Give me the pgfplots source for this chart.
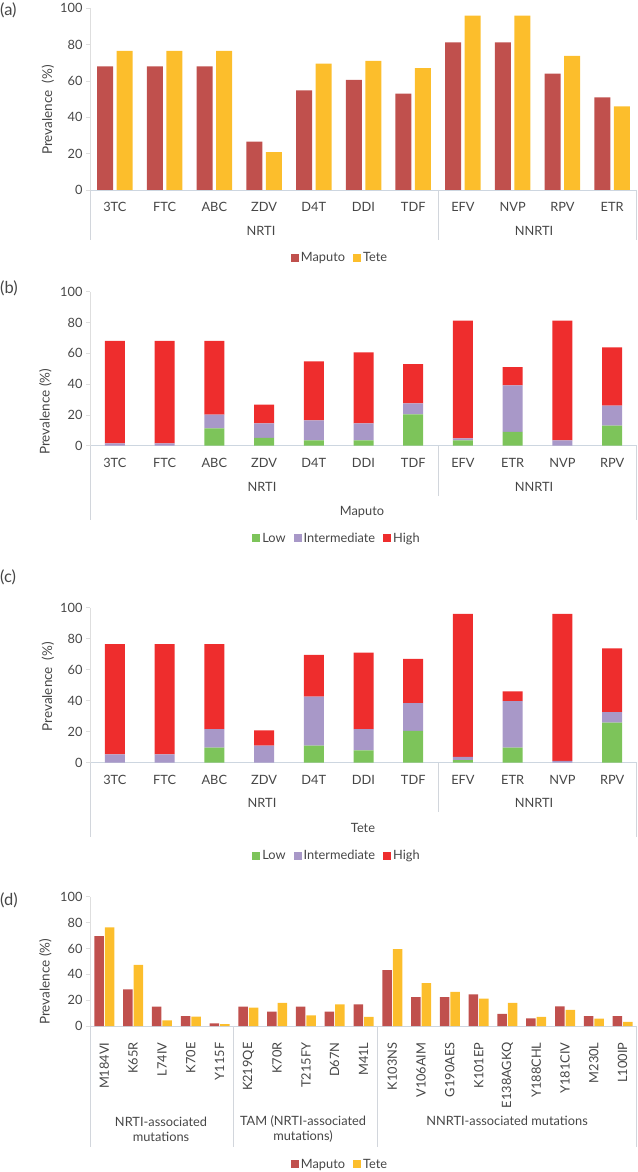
\documentclass[border=0pt]{standalone}
\usepackage{fontspec}
\setmainfont{Lato}
\usepackage{pgfplots}
\usepackage{pgfplotstable}
\pgfplotsset{compat=1.18}
\definecolor{maputo}{RGB}{192,80,77}
\definecolor{tete}{RGB}{252,190,44}
\definecolor{low}{RGB}{125,196,90}
\definecolor{inter}{RGB}{168,152,200}
\definecolor{high}{RGB}{238,45,45}
\definecolor{txt}{RGB}{70,70,70}
\definecolor{yline}{RGB}{222,222,222}
\definecolor{xline}{RGB}{205,214,224}
\definecolor{gline}{RGB}{210,214,220}
\newcommand\tl{\fontsize{12.8}{15}\selectfont}
\newcommand\yl{\fontsize{13.5}{16}\selectfont}
\newcommand\pl{\fontsize{16.5}{19}\selectfont}

\pgfplotstableread{
x Maputo Tete
0 68.0 76.5
1 68.0 76.5
2 68.0 76.5
3 26.6 20.9
4 54.8 69.6
5 60.6 71.0
6 53.0 67.0
7 81.2 96.0
8 81.2 96.0
9 64.0 73.8
10 51.0 46.0
}\tabA

\pgfplotstableread{
x L I H
0 0.0 1.5 66.5
1 0.0 1.5 66.5
2 11.3 8.8 47.9
3 5.0 9.5 12.1
4 3.5 13.0 38.3
5 3.5 11.0 46.1
6 20.3 7.2 25.5
7 3.5 1.3 76.4
8 8.9 30.3 11.8
9 0.0 3.5 77.7
10 13.0 13.0 37.9
}\tabB

\pgfplotstableread{
x L I H
0 0.0 5.4 71.1
1 0.0 5.4 71.1
2 9.7 12.0 54.8
3 0.0 11.0 9.9
4 11.0 31.6 27.0
5 8.0 13.7 49.3
6 20.6 17.9 28.5
7 1.7 2.0 92.3
8 9.7 30.1 6.2
9 0.0 1.1 94.9
10 25.8 6.9 41.1
}\tabC

\pgfplotstableread{
x Maputo Tete
0 69.6 76.3
1 28.4 47.2
2 14.9 4.4
3 7.7 7.2
4 2.1 1.5
5 14.9 14.2
6 11.1 17.8
7 14.9 8.2
8 11.1 16.8
9 16.8 7.0
10 43.3 59.5
11 22.4 33.2
12 22.4 26.3
13 24.5 21.1
14 9.3 17.8
15 5.9 7.0
16 15.2 12.4
17 7.7 5.7
18 7.7 3.1
}\tabD

\pgfplotsset{
  sqleg/.style={legend image code/.code={\path[##1] (0pt,-4pt) rectangle (8pt,4pt);}},
  base/.style={
    scale only axis, width=547pt,
    xmin=-0.5, xmax=10.5, ymin=0, ymax=100,
    axis lines*=left,
    x axis line style={draw=xline, line width=0.8pt},
    y axis line style={draw=yline, line width=0.6pt},
    tick align=outside,
    ytick={0,20,40,60,80,100},
    ytick style={draw=yline, line width=0.6pt},
    major tick length=4pt,
    xtick style={draw=none},
    xtick={0,...,10},
    /pgf/number format/assume math mode=true,
    yticklabel style={font=\tl, text=txt},
    xticklabel style={font=\tl, text=txt, yshift=-5pt},
    legend columns=-1,
    legend style={draw=none, fill=none, font=\tl, text=txt,
      /tikz/every even column/.append style={column sep=6pt},
      /tikz/every odd column/.append style={column sep=0pt}},
  },
}

\begin{document}
\begin{tikzpicture}
\useasboundingbox (0,0) rectangle (637pt,1172pt);

% ---------------- (a)
\begin{axis}[base, at={(90pt,982pt)}, anchor=south west, height=181.7pt,
  ybar=3.5pt, bar width=16pt,
  xticklabels={3TC,FTC,ABC,ZDV,D4T,DDI,TDF,EFV,NVP,RPV,ETR},
  legend style={at={(0.457,-0.3726)}, anchor=center}]
\addplot[fill=maputo, draw=none, sqleg] table[x=x, y=Maputo]{\tabA};
\addplot[fill=tete, draw=none, sqleg] table[x=x, y=Tete]{\tabA};
\legend{Maputo,Tete}
\end{axis}
\draw[gline, line width=0.6pt] (90pt,982pt) -- (90pt,932pt)
  (437.9pt,982pt) -- (437.9pt,932pt) (636.6pt,982pt) -- (636.6pt,932pt);
\node[font=\tl, text=txt] at (261pt,941pt) {NRTI};
\node[font=\tl, text=txt] at (534pt,941pt) {NNRTI};
\node[font=\yl, text=txt, rotate=90] at (48pt,1062pt) {Prevalence\ \ (\%)};
\node[font=\pl, text=txt, anchor=west, inner sep=0pt] at (0pt,1162pt) {(a)};

% ---------------- (b)
\begin{axis}[base, at={(90pt,726.3pt)}, anchor=south west, height=154pt,
  ybar stacked, bar width=20pt,
  xticklabels={3TC,FTC,ABC,ZDV,D4T,DDI,TDF,EFV,ETR,NVP,RPV},
  legend style={at={(0.4516,-0.601)}, anchor=center}]
\addplot[fill=low, draw=none, sqleg] table[x=x, y=L]{\tabB};
\addplot[fill=inter, draw=none, sqleg] table[x=x, y=I]{\tabB};
\addplot[fill=high, draw=none, sqleg] table[x=x, y=H]{\tabB};
\legend{Low,Intermediate,High}
\end{axis}
\draw[gline, line width=0.6pt] (90pt,726.3pt) -- (90pt,652pt)
  (437.9pt,726.3pt) -- (437.9pt,676pt) (636.6pt,726.3pt) -- (636.6pt,652pt);
\node[font=\tl, text=txt] at (262pt,685.3pt) {NRTI};
\node[font=\tl, text=txt] at (534pt,685.3pt) {NNRTI};
\node[font=\tl, text=txt] at (362pt,660.3pt) {Maputo};
\node[font=\yl, text=txt, rotate=90] at (45.5pt,760.3pt) {Prevalence (\%)};
\node[font=\pl, text=txt, anchor=west, inner sep=0pt] at (0pt,884pt) {(b)};

% ---------------- (c)
\begin{axis}[base, at={(90pt,409.3pt)}, anchor=south west, height=155pt,
  ybar stacked, bar width=20pt,
  xticklabels={3TC,FTC,ABC,ZDV,D4T,DDI,TDF,EFV,ETR,NVP,RPV},
  legend style={at={(0.4516,-0.602)}, anchor=center}]
\addplot[fill=low, draw=none, sqleg] table[x=x, y=L]{\tabC};
\addplot[fill=inter, draw=none, sqleg] table[x=x, y=I]{\tabC};
\addplot[fill=high, draw=none, sqleg] table[x=x, y=H]{\tabC};
\legend{Low,Intermediate,High}
\end{axis}
\draw[gline, line width=0.6pt] (90pt,409.3pt) -- (90pt,335.3pt)
  (437.9pt,409.3pt) -- (437.9pt,359.7pt) (636.6pt,409.3pt) -- (636.6pt,335.3pt);
\node[font=\tl, text=txt] at (262pt,368.7pt) {NRTI};
\node[font=\tl, text=txt] at (534pt,368.7pt) {NNRTI};
\node[font=\tl, text=txt] at (363pt,343.7pt) {Tete};
\node[font=\yl, text=txt, rotate=90] at (48pt,485.3pt) {Prevalence\ \ (\%)};
\node[font=\pl, text=txt, anchor=west, inner sep=0pt] at (0pt,595pt) {(c)};

% ---------------- (d)
\begin{axis}[base, at={(90pt,146pt)}, anchor=south west, height=129.3pt,
  xmin=-0.5, xmax=18.5, xtick={0,...,18},
  ybar=1pt, bar width=9.5pt,
  xticklabels={M184VI,K65R,L74IV,K70E,Y115F,K219QE,K70R,T215FY,D67N,M41L,K103NS,V106AIM,G190AES,K101EP,E138AGKQ,Y188CHL,Y181CIV,M230L,L100IP},
  xticklabel style={font=\tl, text=txt, yshift=-4pt, rotate=90, anchor=east},
  legend style={at={(0.457,-1.0696)}, anchor=center}]
\addplot[fill=maputo, draw=none, sqleg] table[x=x, y=Maputo]{\tabD};
\addplot[fill=tete, draw=none, sqleg] table[x=x, y=Tete]{\tabD};
\legend{Maputo,Tete}
\end{axis}
\draw[gline, line width=0.6pt] (90pt,146pt) -- (90pt,25.3pt)
  (233.4pt,146pt) -- (233.4pt,25.3pt) (377.4pt,146pt) -- (377.4pt,25.3pt)
  (636.6pt,146pt) -- (636.6pt,25.3pt);
\node[font=\tl, text=txt, align=center] at (161pt,42.8pt) {NRTI-associated\\mutations};
\node[font=\tl, text=txt, align=center] at (303pt,42.8pt) {TAM (NRTI-associated\\mutations)};
\node[font=\tl, text=txt] at (507pt,51.3pt) {NNRTI-associated mutations};
\node[font=\yl, text=txt, rotate=90] at (45.5pt,190.3pt) {Prevalence (\%)};
\node[font=\pl, text=txt, anchor=west, inner sep=0pt] at (0pt,272pt) {(d)};
\end{tikzpicture}
\end{document}
